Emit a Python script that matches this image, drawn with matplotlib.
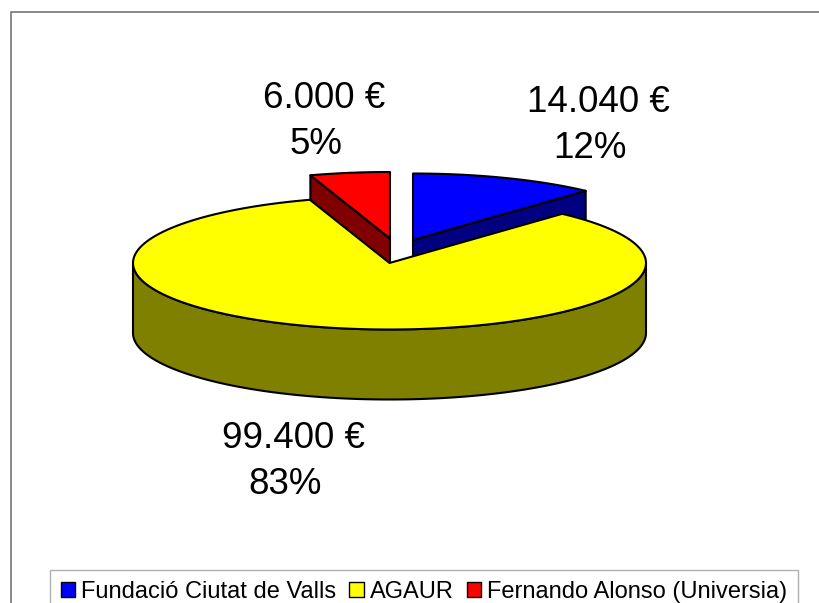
#!/usr/bin/python3

import numpy as np
import matplotlib
matplotlib.use("Agg")
import matplotlib.pyplot as plt
from matplotlib.patches import Patch, Polygon

categories = ["Fundació Ciutat de Valls", "AGAUR", "Fernando Alonso (Universia)"]
values = [14040, 99400, 6000]
value_labels = ["14.040 €", "99.400 €", "6.000 €"]
percent_labels = ["12%", "83%", "5%"]
top_colors = ["#0000ff", "#ffff00", "#ff0000"]
side_colors = ["#000080", "#808000", "#800000"]

# pie geometry in figure pixels
RX = 256.5
RY = 66.5
DEPTH = 70
START_ANGLE = 0
centers = [(413, 240), (389.5, 263), (390, 238.5)]
value_pos = [(598, 102), (293, 438), (324, 98)]
percent_pos = [(590, 149), (285, 484), (316, 145)]

plt.rcParams["font.family"] = ["Liberation Sans", "DejaVu Sans"]


def rim(center, theta):
    """Point(s) on the ellipse, theta in degrees clockwise from 12 o'clock"""
    t = np.radians(theta)
    return np.column_stack([center[0] + RX * np.sin(t), center[1] - RY * np.cos(t)])


def add_poly(ax, pts, color, z):
    ax.add_patch(Polygon(pts, closed=True, facecolor=color, edgecolor="black",
                         linewidth=1.5, joinstyle="round", zorder=z))


def draw_wedge(ax, center, a0, a1, top, side, z):
    arc = rim(center, np.linspace(a0, a1, 200))
    apex = np.array(center, dtype=float)
    drop = np.array([0, DEPTH])

    # cut faces that look towards the viewer
    visible_cuts = []
    if 0 < a1 < 90:
        visible_cuts.append(a1)
    if 270 < a0 < 360:
        visible_cuts.append(a0)
    for edge_angle in visible_cuts:
        p = rim(center, np.array([edge_angle]))[0]
        add_poly(ax, [apex, p, p + drop, apex + drop], side, z)

    # outer wall, only the front half shows
    lo = max(a0, 90)
    hi = min(a1, 270)
    if hi > lo:
        wall = rim(center, np.linspace(lo, hi, 200))
        add_poly(ax, np.vstack([wall, (wall + drop)[::-1]]), side, z)

    add_poly(ax, np.vstack([apex, arc]), top, z + 0.5)


def main():
    fig = plt.figure(figsize=(8.19, 6.03), dpi=100)
    ax = fig.add_axes([0, 0, 1, 1])
    ax.set_xlim(0, 819)
    ax.set_ylim(603, 0)
    ax.axis("off")

    # chart frame, right and bottom sides fall off the picture
    ax.plot([11, 11, 830], [620, 12, 12], color="#808080", linewidth=1.3, zorder=0)

    total = sum(values)
    angles = START_ANGLE + np.cumsum([0] + values) / total * 360

    draw_order = [0, 2, 1]
    for n, i in enumerate(draw_order):
        draw_wedge(ax, centers[i], angles[i], angles[i + 1], top_colors[i], side_colors[i], 2 + n)

    for i in range(len(values)):
        ax.text(*value_pos[i], value_labels[i], fontsize=26.5, ha="center", va="center",
                color="black", zorder=10)
        ax.text(*percent_pos[i], percent_labels[i], fontsize=26.5, ha="center", va="center",
                color="black", zorder=10)

    handles = [Patch(facecolor=c, edgecolor="black", linewidth=1.0) for c in top_colors]
    leg = ax.legend(handles, categories, ncol=3, loc="upper left",
                    bbox_to_anchor=(50 / 819, 1 - 570 / 603), fontsize=17,
                    frameon=True, fancybox=False, edgecolor="#b0b0b0", framealpha=1,
                    handlelength=0.62, handleheight=0.62, handletextpad=0.25,
                    columnspacing=0.55, borderpad=0.45, borderaxespad=0)
    leg.get_frame().set_linewidth(1.0)

    fig.savefig("out.png", dpi=100)


if __name__ == "__main__":
    main()
